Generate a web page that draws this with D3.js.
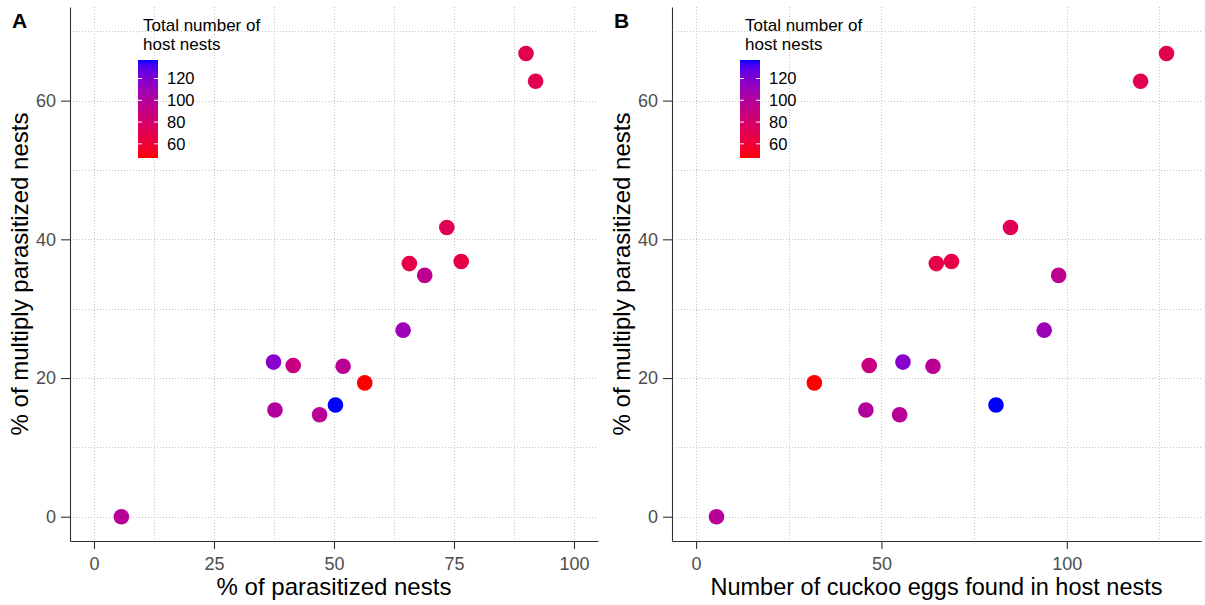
<!DOCTYPE html>
<html>
<head>
<meta charset="utf-8">
<script src="https://cdn.jsdelivr.net/npm/d3@7"></script>
<style>
  html, body { margin: 0; padding: 0; background: #fff; }
  svg { display: block; font-family: "Liberation Sans", Arial, sans-serif; }
</style>
</head>
<body>
<svg id="chart" width="1205" height="605"></svg>
<script>
// ---- data ----
const pctParasitized = [5.7, 37.4, 41.5, 51.9, 56.4, 50.3, 37.7, 47.0, 73.5, 65.7, 76.5, 68.9, 64.4, 90.0, 92.0];
const pctMultiply    = [0, 22.3, 21.8, 21.7, 19.3, 16.1, 15.4, 14.7, 41.7, 36.5, 36.8, 34.8, 26.9, 66.8, 62.8];
const cuckooEggs     = [5.5, 55.8, 46.7, 63.9, 31.9, 80.9, 45.8, 54.9, 84.8, 64.8, 68.9, 97.8, 93.9, 126.9, 119.9];
const totalNests     = [98, 118, 88, 96, 47, 137, 100, 98, 72, 66, 66, 95, 110, 70, 70];

const xTicksA = [0, 25, 50, 75, 100];
const xMinorA = [12.5, 37.5, 62.5, 87.5];
const xTicksB = [0, 50, 100];
const xMinorB = [25, 75, 125];
const yTicks = [0, 20, 40, 60];
const yMinor = [10, 30, 50, 70];
const legendTicks = [60, 80, 100, 120];
const legendTitle = ["Total number of", "host nests"];

const svg = d3.select("#chart");

const color = d3.scaleLinear()
  .domain(d3.extent(totalNests))
  .range(["red", "blue"])
  .interpolate(d3.interpolateLab);

const plotTop = 7, plotBottom = 541;
const y = d3.scaleLinear().domain([-3.5, 73.5]).range([plotBottom, plotTop]);

// gradient def
const defs = svg.append("defs");
const grad = defs.append("linearGradient").attr("id", "cbar")
  .attr("x1", 0).attr("y1", 1).attr("x2", 0).attr("y2", 0);
d3.range(0, 1.0001, 0.05).forEach(t => {
  grad.append("stop").attr("offset", t)
    .attr("stop-color", color(color.domain()[0] + t * (color.domain()[1] - color.domain()[0])));
});

function drawPanel(opt) {
  const x = d3.scaleLinear().domain(opt.xDomain).range([opt.left, opt.right]);
  const g = svg.append("g");

  const grid = g.append("g").attr("stroke", "#c4c4c4").attr("stroke-width", 1)
    .attr("stroke-dasharray", "1,2").attr("fill", "none");
  opt.xMinor.concat(opt.xTicks).forEach(v => {
    grid.append("line").attr("x1", Math.round(x(v)) + 0.5).attr("x2", Math.round(x(v)) + 0.5)
      .attr("y1", plotTop).attr("y2", plotBottom);
  });
  yMinor.concat(yTicks).forEach(v => {
    grid.append("line").attr("y1", Math.round(y(v)) + 0.5).attr("y2", Math.round(y(v)) + 0.5)
      .attr("x1", opt.left).attr("x2", opt.right);
  });

  // points
  g.append("g").selectAll("circle")
    .data(opt.xs.map((v, i) => ({ x: v, y: pctMultiply[i], c: totalNests[i] })))
    .join("circle")
    .attr("cx", d => x(d.x)).attr("cy", d => y(d.y)).attr("r", 7.8)
    .attr("fill", d => color(d.c));

  // axes
  const xAxis = g.append("g").attr("transform", `translate(0,${plotBottom})`)
    .call(d3.axisBottom(x).tickValues(opt.xTicks).tickSize(8).tickPadding(8).tickSizeOuter(0));
  const yAxis = g.append("g").attr("transform", `translate(${opt.left},0)`)
    .call(d3.axisLeft(y).tickValues(yTicks).tickSize(9).tickPadding(5).tickSizeOuter(0));
  [xAxis, yAxis].forEach(a => {
    a.select(".domain").attr("stroke", "#333").attr("stroke-width", 1.1);
    a.selectAll(".tick line").attr("stroke", "#333").attr("stroke-width", 1.1);
    a.selectAll(".tick text").attr("fill", "#4d4d4d").attr("font-size", 18)
      .attr("font-family", "'Liberation Sans', Arial, sans-serif");
  });

  // titles
  g.append("text").attr("x", (opt.left + opt.right) / 2).attr("y", 595)
    .attr("text-anchor", "middle").attr("font-size", opt.xTitleSize).attr("fill", "#000")
    .text(opt.xTitle);
  g.append("text")
    .attr("transform", `translate(${opt.left - 42},${(plotTop + plotBottom) / 2}) rotate(-90)`)
    .attr("text-anchor", "middle").attr("font-size", 24).attr("fill", "#000")
    .text("% of multiply parasitized nests");
  g.append("text").attr("x", opt.left - 58).attr("y", 28)
    .attr("font-size", 21).attr("font-weight", "bold").text(opt.tag);

  // legend
  const lx = opt.left + 68, ly = 60, lw = 20, lh = 98;
  const lg = g.append("g");
  lg.selectAll("text.lt").data(legendTitle).join("text").attr("class", "lt")
    .attr("x", lx + 5).attr("y", (d, i) => 31 + i * 19)
    .attr("font-size", 17).text(d => d);
  lg.append("rect").attr("x", lx).attr("y", ly).attr("width", lw).attr("height", lh)
    .attr("fill", "url(#cbar)");
  const ls = d3.scaleLinear().domain(color.domain()).range([ly + lh, ly]);
  legendTicks.forEach(v => {
    const yy = ls(v);
    lg.append("line").attr("x1", lx).attr("x2", lx + 4).attr("y1", yy).attr("y2", yy)
      .attr("stroke", "#fff").attr("stroke-width", 1);
    lg.append("line").attr("x1", lx + lw - 4).attr("x2", lx + lw).attr("y1", yy).attr("y2", yy)
      .attr("stroke", "#fff").attr("stroke-width", 1);
    lg.append("text").attr("x", lx + 29).attr("y", yy).attr("dy", "0.36em")
      .attr("font-size", 16.5).text(v);
  });
}

drawPanel({
  tag: "A", left: 70, right: 598, xDomain: [-5, 105],
  xTicks: xTicksA, xMinor: xMinorA, xs: pctParasitized,
  xTitle: "% of parasitized nests", xTitleSize: 24
});
drawPanel({
  tag: "B", left: 672, right: 1201, xDomain: [-6.5, 136.2],
  xTicks: xTicksB, xMinor: xMinorB, xs: cuckooEggs,
  xTitle: "Number of cuckoo eggs found in host nests", xTitleSize: 23.5
});
</script>
</body>
</html>
